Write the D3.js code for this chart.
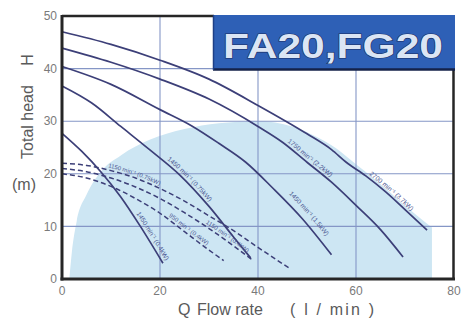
<!DOCTYPE html>
<html><head><meta charset="utf-8">
<script src="https://cdn.jsdelivr.net/npm/d3@7"></script>
<style>html,body{margin:0;padding:0;background:#fff;}svg{display:block;}</style>
</head><body>
<svg id="c" width="462" height="324"></svg>
<script>
// ---------- data ----------
const xTicks = [0, 20, 40, 60, 80];
const yTicks = [0, 10, 20, 30, 40, 50];
const title = "FA20,FG20";
const yTitle = "Total head";
const yLetter = "H";
const yUnit = "(m)";
const xTitleParts = ["Q", "Flow rate", "( l / min )"];

const curveLabels = ["2700 min⁻¹ (3.7kW)", "1750 min⁻¹ (2.2kW)", "1450 min⁻¹ (1.5kW)", "1450 min⁻¹ (0.75kW)", "1450 min⁻¹ (0.4kW)"];
const curveA = [[0,47],[10,44.6],[20,41.6],[30,38],[40,33],[50,27.6],[55,24.6],[58,22.2],[62,19.6],[66,16.6],[70,13.2],[74.5,9.3]];
const curveB = [[0,43.9],[10,41.2],[20,38],[30,34.2],[40,29],[45,26],[50,22.2],[55,18.4],[60,14],[65,9.4],[69.6,4.2]];
const curveC = [[0,40.4],[10,37],[20,32.2],[26.5,29.1],[32,25.8],[37.5,22.2],[43,17.3],[49,11.5],[55,4.6]];
const curveD = [[0,36.7],[6,33.5],[12,29],[18,24.5],[24,19.8],[30,13.8],[35,8],[38.5,4]];
const curveE = [[0,27.7],[4,24.3],[8,20.3],[12,15.6],[16,10],[20.6,3]];

const dashLabels = ["1150 min⁻¹ (0.75kW)", "1150 min⁻¹ (0.4kW)", "950 min⁻¹ (0.4kW)"];
const dashD1 = [[0,22],[5,21.6],[10,20.6],[15,19.2],[20,17.2],[25,14.8],[30,12],[35,9.2],[40,6],[46.5,2]];
const dashD2 = [[0,21],[5,20.4],[10,19.2],[15,17.5],[20,15.3],[25,12.6],[30,9.6],[35,6.3],[39,3.5]];
const dashD3 = [[0,20],[5,19.2],[10,17.6],[15,15.3],[20,12.5],[25,9],[30,5.5],[33,3.5]];

const rangeTop = [[1.5,0],[2,5],[3,11],[5,16],[8,20.5],[12,23.5],[18,26.5],[25,28.5],[32,29.6],[40,30],[47,29],[52,27],[56,24.8],[60,21.8],[64,18.8],[68,15.6],[72,12.4],[75.5,9.8]];

// ---------- layout ----------
const solid = [curveA, curveB, curveC, curveD, curveE];
const dashed = [dashD1, dashD2, dashD3];
const solidLabelOffset = ["81%", "60%", "78%", "50%", "66%"];
const solidLabelDy = [-3, -3, -7, -3, -3.5];
const dashLabelOffset = ["18%", "72%", "62%"];
const dashLabelDy = [-2.5, -2.5, -2.5];

const svg = d3.select("#c");
const x = d3.scaleLinear().domain([0, 80]).range([62, 454]);
const y = d3.scaleLinear().domain([0, 50]).range([279, 16]);
const lineColor = "#3c3f78";
const font = "Liberation Sans, Arial, sans-serif";

// operating range shading
svg.append("path")
  .attr("d", d3.area().x(d => x(d[0])).y0(y(0)).y1(d => y(d[1])).curve(d3.curveMonotoneX)(rangeTop))
  .attr("fill", "#cde6f3");

// grid
svg.append("g").selectAll("line").data(xTicks.filter(t => t > 0 && t < 80)).join("line")
  .attr("x1", d => x(d)).attr("x2", d => x(d)).attr("y1", y(50)).attr("y2", y(0))
  .attr("stroke", "#8596c6").attr("stroke-width", 1.1);
svg.append("g").selectAll("line").data(yTicks.filter(t => t > 0 && t < 50)).join("line")
  .attr("x1", x(0)).attr("x2", x(80)).attr("y1", d => y(d)).attr("y2", d => y(d))
  .attr("stroke", "#8596c6").attr("stroke-width", 1.1);

// curves
const line = d3.line().x(d => x(d[0])).y(d => y(d[1])).curve(d3.curveMonotoneX);
const defs = svg.append("defs");
solid.forEach((c, i) => {
  defs.append("path").attr("id", "s" + i).attr("d", line(c));
  svg.append("path").attr("d", line(c)).attr("fill", "none")
    .attr("stroke", lineColor).attr("stroke-width", 1.7);
  svg.append("text").attr("font-family", font)
    .attr("font-size", 6.5).attr("fill", "#4a5590").attr("dy", solidLabelDy[i])
    .append("textPath").attr("href", "#s" + i).attr("startOffset", solidLabelOffset[i])
    .text(curveLabels[i]);
});
dashed.forEach((c, i) => {
  defs.append("path").attr("id", "d" + i).attr("d", line(c));
  svg.append("path").attr("d", line(c)).attr("fill", "none")
    .attr("stroke", lineColor).attr("stroke-width", 1.5).attr("stroke-dasharray", "5,3");
  svg.append("text").attr("font-family", font)
    .attr("font-size", 6).attr("fill", "#4a5590").attr("dy", dashLabelDy[i])
    .append("textPath").attr("href", "#d" + i).attr("startOffset", dashLabelOffset[i])
    .text(dashLabels[i]);
});

// frame
const frame = "#262626";
svg.append("line").attr("x1", x(0)).attr("x2", x(0)).attr("y1", y(50) - 1).attr("y2", y(0) + 1.5)
  .attr("stroke", frame).attr("stroke-width", 3);
svg.append("line").attr("x1", x(0) - 1.5).attr("x2", x(80) + 1).attr("y1", y(0)).attr("y2", y(0))
  .attr("stroke", frame).attr("stroke-width", 3);
svg.append("line").attr("x1", x(0)).attr("x2", 214).attr("y1", y(50)).attr("y2", y(50))
  .attr("stroke", frame).attr("stroke-width", 2.5);
svg.append("line").attr("x1", x(80) - 0.5).attr("x2", x(80) - 0.5).attr("y1", 68).attr("y2", y(0))
  .attr("stroke", frame).attr("stroke-width", 2.5);

// title box
svg.append("rect").attr("x", 213).attr("y", 15).attr("width", 242).attr("height", 54)
  .attr("fill", "#2e60b6");
svg.append("line").attr("x1", 213).attr("x2", 455).attr("y1", 69.5).attr("y2", 69.5)
  .attr("stroke", "#14224a").attr("stroke-width", 2.5);
svg.append("line").attr("x1", 213.5).attr("x2", 213.5).attr("y1", 15).attr("y2", 70)
  .attr("stroke", "#1d3f86").attr("stroke-width", 1.5);
svg.append("text").attr("x", 223).attr("y", 58)
  .attr("font-family", font).attr("font-weight", "bold")
  .attr("font-size", 35).attr("textLength", 220).attr("lengthAdjust", "spacingAndGlyphs")
  .attr("fill", "#dbe5f4").attr("stroke", "#1b2d63").attr("stroke-width", 1.2)
  .attr("paint-order", "stroke").text(title);

// tick labels
svg.append("g").selectAll("text").data(yTicks).join("text")
  .attr("x", 57).attr("y", d => y(d)).attr("dy", "0.35em").attr("text-anchor", "end")
  .attr("font-family", font).attr("font-size", 12).attr("fill", "#7a7a7a").text(d => d);
svg.append("g").selectAll("text").data(xTicks).join("text")
  .attr("x", d => x(d)).attr("y", 295).attr("text-anchor", "middle")
  .attr("font-family", font).attr("font-size", 12).attr("fill", "#7a7a7a").text(d => d);

// axis titles
svg.append("text").attr("transform", "translate(33,122) rotate(-90)").attr("text-anchor", "middle")
  .attr("font-family", font).attr("font-size", 16).attr("fill", "#5a5a5a").text(yTitle);
svg.append("text").attr("transform", "translate(33,60) rotate(-90)").attr("text-anchor", "middle")
  .attr("font-family", font).attr("font-size", 16).attr("fill", "#5a5a5a").text(yLetter);
svg.append("text").attr("x", 24).attr("y", 190).attr("text-anchor", "middle")
  .attr("font-family", font).attr("font-size", 16).attr("fill", "#5a5a5a").text(yUnit);
const xt = svg.append("text").attr("y", 315).attr("font-family", font).attr("font-size", 16).attr("fill", "#5a5a5a");
xt.append("tspan").attr("x", 178).text(xTitleParts[0]);
xt.append("tspan").attr("x", 197).text(xTitleParts[1]);
xt.append("tspan").attr("x", 290).attr("textLength", 84).text(xTitleParts[2]);
</script>
</body></html>
